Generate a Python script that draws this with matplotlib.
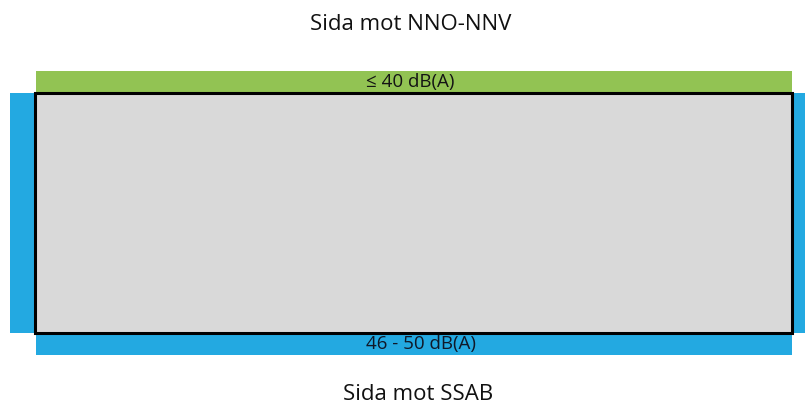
import matplotlib
matplotlib.use("Agg")
import matplotlib.pyplot as plt
from matplotlib.patches import Rectangle

# labels for the sides of the building and noise levels on each side
side_titles = ["Sida mot NNO-NNV", "Sida mot SSAB"]
level_labels = ["\u2264 40 dB(A)", "46 - 50 dB(A)"]
level_colors = ["#92C353", "#23A9E1"]

plt.rcParams['font.family'] = ['Open Sans', 'DejaVu Sans']

fig = plt.figure(figsize=(8.05, 4.07), dpi=100)
ax = fig.add_axes([0, 0, 1, 1])
ax.set_xlim(0, 805)
ax.set_ylim(407, 0)
ax.axis('off')

# building outline (pixel layout)
left, right, top, bottom = 35, 792, 93, 333

# top strip (north side)
ax.add_patch(Rectangle((left + 1, 71), right - left - 1, top - 71,
                       facecolor=level_colors[0], edgecolor='none'))
# side strips and bottom strip (south side)
ax.add_patch(Rectangle((10, top), left - 10, bottom - top,
                       facecolor=level_colors[1], edgecolor='none'))
ax.add_patch(Rectangle((right, top), 805 - right, bottom - top,
                       facecolor=level_colors[1], edgecolor='none'))
ax.add_patch(Rectangle((left + 1, 335), right - left - 1, 20,
                       facecolor=level_colors[1], edgecolor='none'))

# building itself
ax.add_patch(Rectangle((left, top), right - left, bottom - top,
                       facecolor='#D9D9D9', edgecolor='black', linewidth=2.2))

ax.text(411, 25, side_titles[0], ha='center', va='center', fontsize=16, color='#111111')
ax.text(418, 395, side_titles[1], ha='center', va='center', fontsize=16, color='#111111')
ax.text(410, 82, level_labels[0], ha='center', va='center', fontsize=13.5, color='#141414')
ax.text(421, 344, level_labels[1], ha='center', va='center', fontsize=13.5, color='#101828')

fig.savefig('out.png', dpi=100)
